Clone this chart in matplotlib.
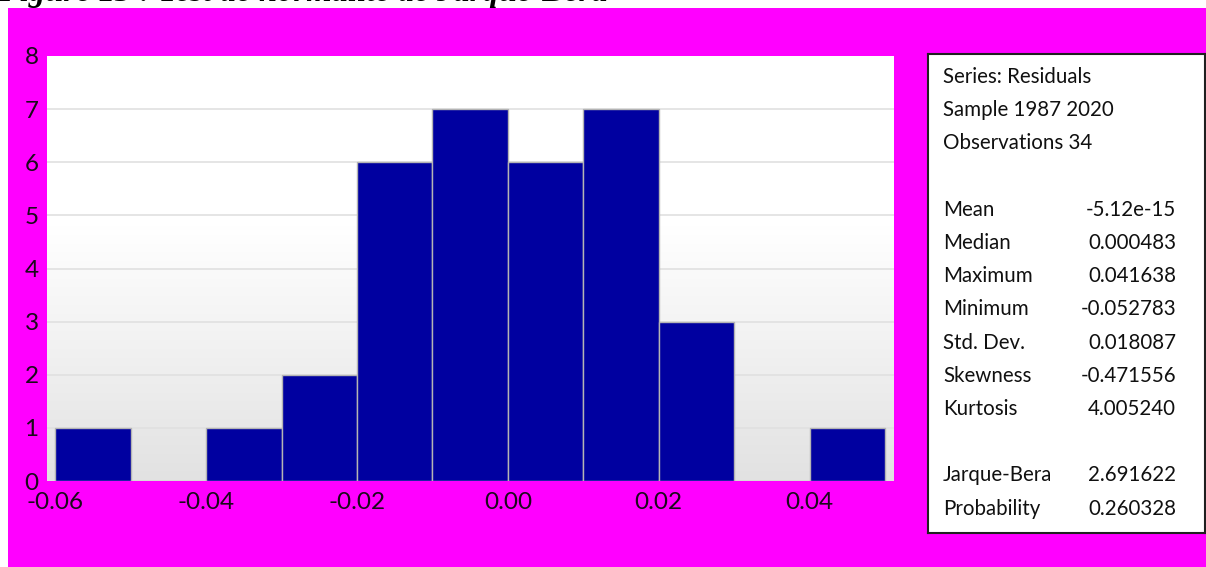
import numpy as np
import matplotlib.pyplot as plt
from matplotlib.patches import Rectangle

# residual histogram: left edge of each bin and its count
bin_left = [-0.06, -0.05, -0.04, -0.03, -0.02, -0.01, 0.00, 0.01, 0.02, 0.03, 0.04]
counts = [1, 0, 1, 2, 6, 7, 6, 7, 3, 0, 1]
bin_width = 0.01

x_ticks = [-0.06, -0.04, -0.02, 0.00, 0.02, 0.04]
y_ticks = [0, 1, 2, 3, 4, 5, 6, 7, 8]

stat_labels = ["Series: Residuals", "Sample 1987 2020", "Observations 34", "",
               "Mean", "Median", "Maximum", "Minimum", "Std. Dev.", "Skewness", "Kurtosis", "",
               "Jarque-Bera", "Probability"]
stat_values = ["", "", "", "",
               "-5.12e-15", "0.000483", "0.041638", "-0.052783", "0.018087", "-0.471556", "4.005240", "",
               "2.691622", "0.260328"]

W, H = 1206, 567
fig = plt.figure(figsize=(W / 100, H / 100), dpi=100, facecolor="#ff00ff")

# white page margin above and left of the magenta panel
fig.patches.append(Rectangle((0, 1 - 8 / H), 1, 8 / H, transform=fig.transFigure,
                             facecolor="white", edgecolor="none", zorder=0))
fig.patches.append(Rectangle((0, 0), 8 / W, 1, transform=fig.transFigure,
                             facecolor="white", edgecolor="none", zorder=0))
fig.text(-2 / W, 1 - 0.5 / H, "Figure 13 : Test de normalité de Jarque-Bera",
         family="Liberation Serif", weight="bold", style="italic", fontsize=23.5,
         va="baseline", ha="left", color="black")

# histogram panel
ax = fig.add_axes([47 / W, 1 - 481 / H, (894 - 47) / W, (481 - 56) / H])
x0, x1 = -0.0611, 0.0512
ax.set_xlim(x0, x1)
ax.set_ylim(0, 8)

# soft vertical gradient behind the bars
g = np.linspace(0, 1, 256)
shade = np.clip(g / 0.6, 0, 1)
col = (0xe2 + (0xff - 0xe2) * shade) / 255
grad = np.dstack([col, col, col])[0][:, None, :].repeat(2, axis=1)
ax.imshow(grad, extent=[x0, x1, 0, 8], origin="lower", aspect="auto", zorder=0)

for yv in y_ticks[1:-1]:
    ax.axhline(yv, color="#e0e0e0", linewidth=1.2, zorder=1)

ax.bar(bin_left, counts, width=bin_width, align="edge", color="#0000a0",
       edgecolor="#b4b4b4", linewidth=1.0, zorder=2)

for s in ax.spines.values():
    s.set_visible(False)
ax.set_xticks(x_ticks)
ax.set_xticklabels(["%.2f" % v for v in x_ticks])
ax.set_yticks(y_ticks)
ax.tick_params(length=0, labelsize=17.5, labelcolor="#1a0a1a")
ax.tick_params(axis="y", pad=6)
ax.tick_params(axis="x", pad=8)
for lab in ax.get_xticklabels() + ax.get_yticklabels():
    lab.set_family("Lato")

# summary statistics box
bx = fig.add_axes([928 / W, 1 - 533 / H, (1205 - 928) / W, (533 - 54) / H])
bx.set_facecolor("white")
bx.set_xlim(0, 1205 - 928)
bx.set_ylim(533 - 54, 0)
bx.set_xticks([])
bx.set_yticks([])
for s in bx.spines.values():
    s.set_color("#202020")
    s.set_linewidth(1.5)

for i, (lab, val) in enumerate(zip(stat_labels, stat_values)):
    yy = 77 + 33.2 * i - 54
    bx.text(943 - 928, yy, lab, family="Lato", fontsize=14.8, va="center", ha="left", color="#101010")
    if val:
        bx.text(1176 - 928, yy, val, family="Lato", fontsize=14.8, va="center", ha="right", color="#101010")

fig.savefig("out.png", dpi=100, facecolor=fig.get_facecolor())
